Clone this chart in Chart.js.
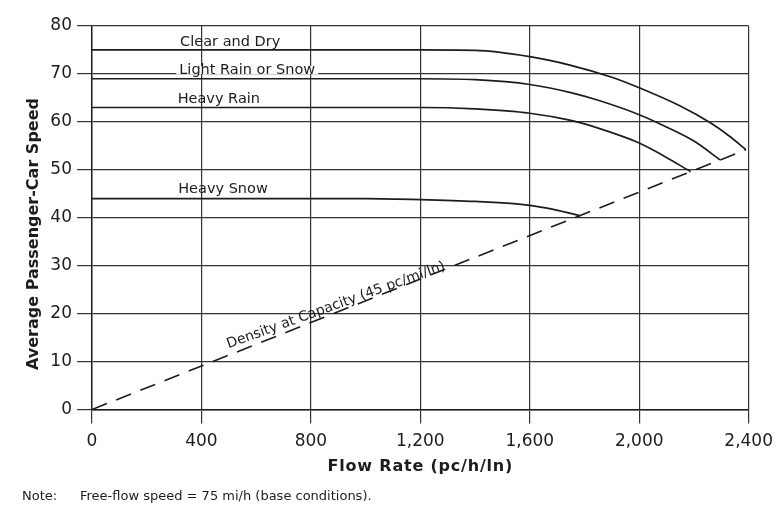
<!DOCTYPE html>
<html>
<head>
<meta charset="utf-8">
<script src="https://cdn.jsdelivr.net/npm/chart.js@4.4.1/dist/chart.umd.min.js"></script>
<style>
    html, body { margin: 0; padding: 0; background: #fff; }
    #wrap { width: 781px; height: 510px; }
</style>
</head>
<body>
<div id="wrap"><canvas id="speedChart" width="781" height="510"></canvas></div>
<script>
// ===== data =====
const xTicks = [0, 400, 800, 1200, 1600, 2000, 2400];
const yTicks = [0, 10, 20, 30, 40, 50, 60, 70, 80];

const clearFlow  = [0, 1000, 1200, 1400, 1600, 1750, 1900, 2000, 2150, 2260, 2330, 2390];
const clearSpeed = [75, 75, 75, 74.9, 73.6, 71.8, 69.3, 67.1, 63.3, 59.8, 57.0, 54.2];

const lightFlow  = [0, 1000, 1200, 1400, 1600, 1750, 1850, 2000, 2090, 2200, 2295];
const lightSpeed = [69, 69, 69, 68.8, 67.8, 66.1, 64.5, 61.5, 59.2, 56.0, 52.1];

const rainFlow  = [0, 1000, 1200, 1400, 1600, 1750, 1850, 2000, 2090, 2188];
const rainSpeed = [63, 63, 63, 62.7, 61.8, 60.3, 58.7, 55.6, 52.9, 49.6];

const snowFlow  = [0, 1000, 1200, 1400, 1600, 1690, 1785];
const snowSpeed = [44, 44, 43.8, 43.4, 42.6, 41.7, 40.4];

const densityFlow  = [0, 2390];
const densitySpeed = [0, 54.2];

const curveNames = ['Clear and Dry', 'Light Rain or Snow', 'Heavy Rain', 'Heavy Snow'];
const nameFlow   = [322, 319, 313, 315];
const nameSpeed  = [76.7, 70.8, 64.7, 45.9];

const densityText = 'Density at Capacity (45 pc/mi/ln)';
const xTitle = 'Flow Rate (pc/h/ln)';
const yTitle = 'Average Passenger-Car Speed';
const noteLabel = 'Note:';
const noteText = 'Free-flow speed = 75 mi/h (base conditions).';

const pts = (xs, ys) => xs.map((x, i) => ({ x: x, y: ys[i] }));
const INK = '#1c1c1c';
const FONT = '"DejaVu Sans", Verdana, sans-serif';

function curve(xs, ys) {
    return {
        data: pts(xs, ys), showLine: true, pointRadius: 0,
        borderColor: INK, borderWidth: 1.7, cubicInterpolationMode: 'monotone'
    };
}

// text on top of the plot: curve names, density label, axis titles, note
const textPlugin = {
    id: 'figureText',
    afterDraw(chart) {
        const ctx = chart.ctx, xs = chart.scales.x, ys = chart.scales.y, a = chart.chartArea;
        ctx.save();
        ctx.fillStyle = INK;

        ctx.font = '14.5px ' + FONT;
        ctx.textBaseline = 'middle';
        ctx.textAlign = 'left';
        curveNames.forEach((t, i) => {
            const px = xs.getPixelForValue(nameFlow[i]), py = ys.getPixelForValue(nameSpeed[i]);
            if (i === 1) {
                const w = ctx.measureText(t).width;
                ctx.fillStyle = '#fff';
                ctx.fillRect(px - 3, py - 4, w + 6, 8);
                ctx.fillStyle = INK;
            }
            ctx.fillText(t, px, py);
        });

        // label riding on the dashed capacity line
        const x0 = xs.getPixelForValue(densityFlow[0]), y0 = ys.getPixelForValue(densitySpeed[0]);
        const x1 = xs.getPixelForValue(densityFlow[1]), y1 = ys.getPixelForValue(densitySpeed[1]);
        const ang = Math.atan2(y1 - y0, x1 - x0);
        const cx = xs.getPixelForValue(900);
        const cy = y0 + (cx - x0) * Math.tan(ang);
        ctx.save();
        ctx.translate(cx, cy);
        ctx.rotate(ang + 0.03);
        ctx.font = '14px ' + FONT;
        ctx.textAlign = 'center';
        ctx.textBaseline = 'alphabetic';
        ctx.fillText(densityText, 0, -3);
        ctx.restore();

        // axis titles
        ctx.font = 'bold 16px ' + FONT;
        ctx.textAlign = 'center';
        ctx.textBaseline = 'middle';
        if ('letterSpacing' in ctx) ctx.letterSpacing = '0.8px';
        ctx.fillText(xTitle, (a.left + a.right) / 2, 467);
        if ('letterSpacing' in ctx) ctx.letterSpacing = '0px';
        ctx.save();
        ctx.translate(34, 234);
        ctx.rotate(-Math.PI / 2);
        ctx.fillText(yTitle, 0, 0);
        ctx.restore();

        // note under the figure
        ctx.font = '13px ' + FONT;
        ctx.textAlign = 'left';
        ctx.fillText(noteLabel, 22, 497);
        ctx.fillText(noteText, 80, 497);
        ctx.restore();
    }
};

const gridStyle = { color: '#333', lineWidth: 1.2 };

new Chart(document.getElementById('speedChart'), {
    type: 'scatter',
    data: {
        datasets: [
            curve(clearFlow, clearSpeed),
            curve(lightFlow, lightSpeed),
            curve(rainFlow, rainSpeed),
            curve(snowFlow, snowSpeed),
            {
                data: pts(densityFlow, densitySpeed), showLine: true, pointRadius: 0,
                borderColor: INK, borderWidth: 1.6, borderDash: [16, 10]
            }
        ]
    },
    options: {
        responsive: false, animation: false, devicePixelRatio: 1,
        layout: { padding: { left: 0, right: 28, top: 26, bottom: 0 } },
        plugins: { legend: { display: false }, tooltip: { enabled: false } },
        scales: {
            x: {
                type: 'linear', min: 0, max: 2400,
                afterBuildTicks: s => { s.ticks = xTicks.map(v => ({ value: v })); },
                afterFit: s => { s.height = 100.5; },
                ticks: {
                    color: INK, font: { family: FONT, size: 17 }, padding: 8,
                    maxRotation: 0, callback: v => v.toLocaleString('en-US')
                },
                grid: { ...gridStyle, tickLength: 14 },
                border: { color: INK, width: 1.4 }
            },
            y: {
                min: 0, max: 80,
                afterBuildTicks: s => { s.ticks = yTicks.map(v => ({ value: v })); },
                afterFit: s => { s.width = 92; },
                ticks: { color: INK, font: { family: FONT, size: 17 }, padding: 5 },
                grid: { ...gridStyle, tickLength: 15 },
                border: { color: INK, width: 1.4 }
            }
        }
    },
    plugins: [textPlugin]
});
</script>
</body>
</html>
